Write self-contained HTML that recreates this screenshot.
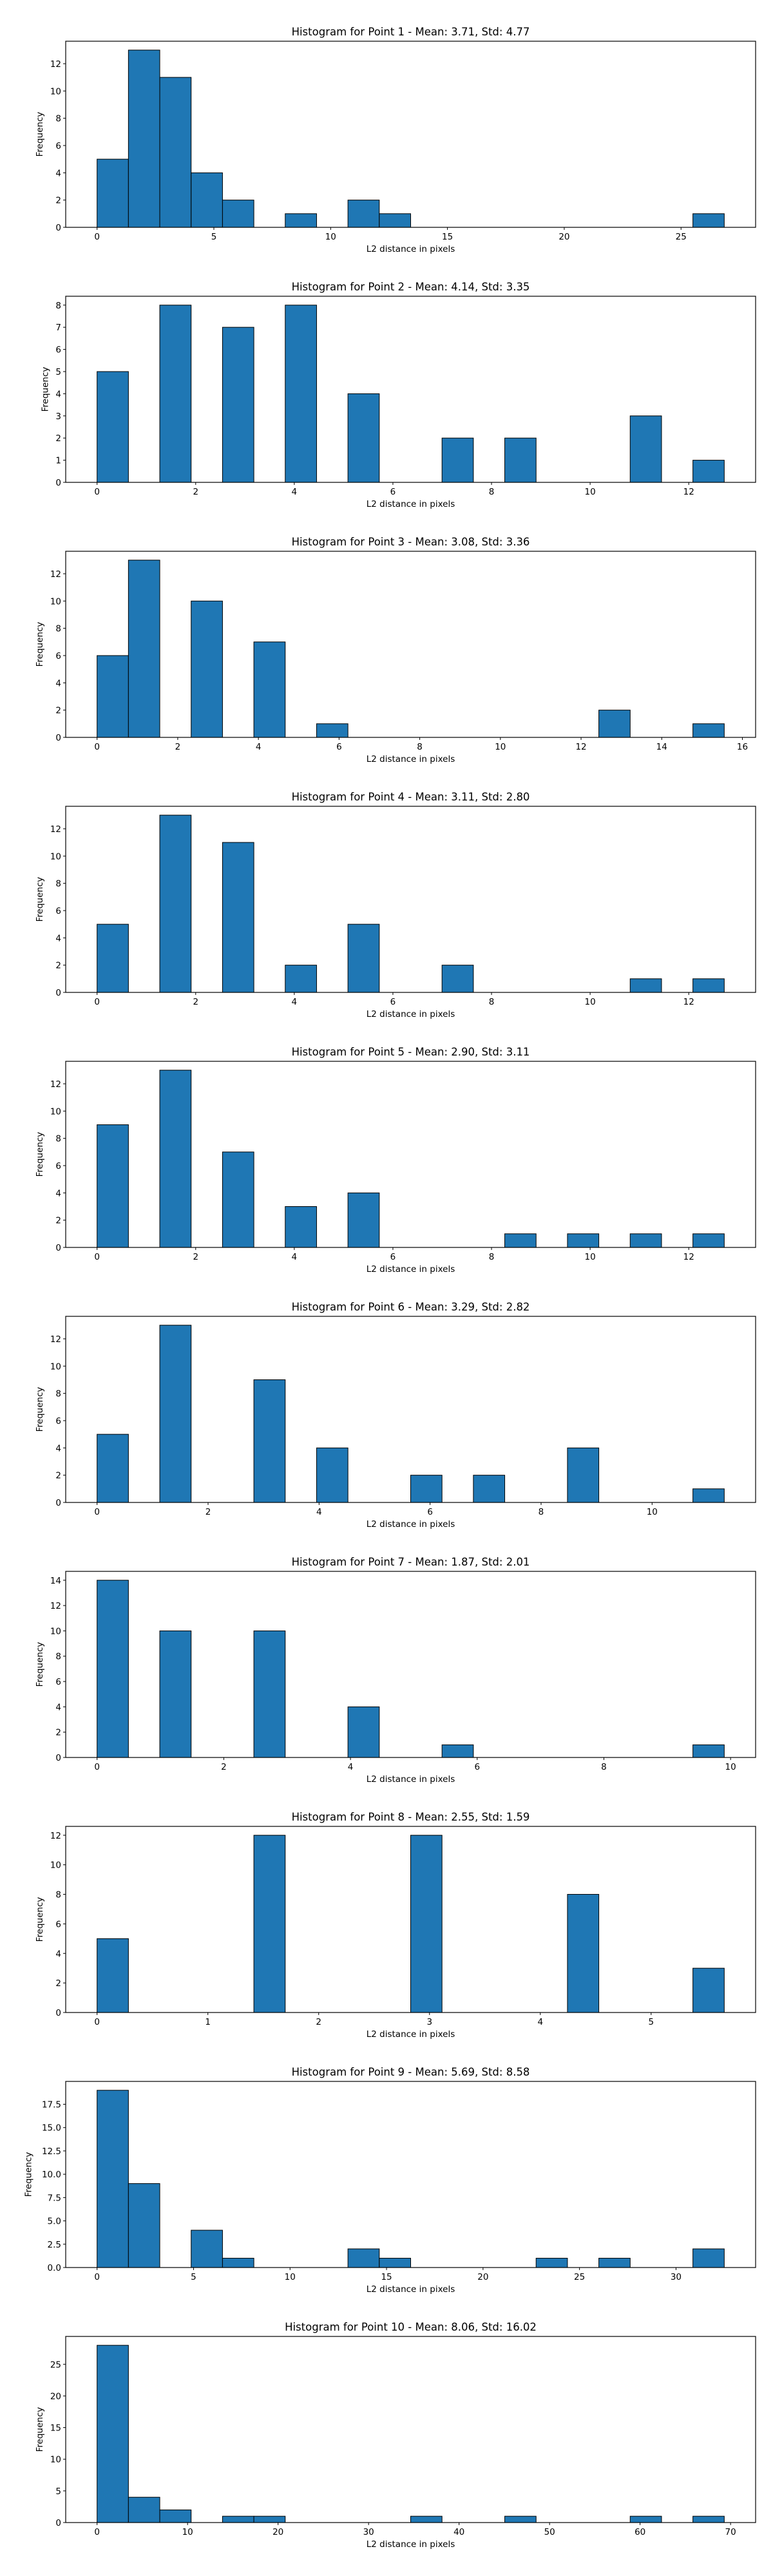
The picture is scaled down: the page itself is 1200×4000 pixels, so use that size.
<!DOCTYPE html>
<html><head><meta charset="utf-8">
<style>
html,body{margin:0;padding:0;background:#fff;}
svg{display:block;font-family:"DejaVu Sans","Liberation Sans",sans-serif;}
</style></head>
<body>
<svg id="fig" width="1200" height="4000" viewBox="0 0 1200 4000" xmlns="http://www.w3.org/2000/svg"></svg>
<script>
const pointLabels = ["1","2","3","4","5","6","7","8","9","10"];
const means = ["3.71","4.14","3.08","3.11","2.90","3.29","1.87","2.55","5.69","8.06"];
const stds = ["4.77","3.35","3.36","2.80","3.11","2.82","2.01","1.59","8.58","16.02"];
const xMaxes = [26.85,12.72,15.55,12.72,12.72,11.3,9.9,5.66,32.5,69.3];
const counts1 = [5,13,11,4,2,0,1,0,2,1,0,0,0,0,0,0,0,0,0,1];
const counts2 = [5,0,8,0,7,0,8,0,4,0,0,2,0,2,0,0,0,3,0,1];
const counts3 = [6,13,0,10,0,7,0,1,0,0,0,0,0,0,0,0,2,0,0,1];
const counts4 = [5,0,13,0,11,0,2,0,5,0,0,2,0,0,0,0,0,1,0,1];
const counts5 = [9,0,13,0,7,0,3,0,4,0,0,0,0,1,0,1,0,1,0,1];
const counts6 = [5,0,13,0,0,9,0,4,0,0,2,0,2,0,0,4,0,0,0,1];
const counts7 = [14,0,10,0,0,10,0,0,4,0,0,1,0,0,0,0,0,0,0,1];
const counts8 = [5,0,0,0,0,12,0,0,0,0,12,0,0,0,0,8,0,0,0,3];
const counts9 = [19,9,0,4,1,0,0,0,2,1,0,0,0,0,1,0,1,0,0,2];
const counts10 = [28,4,2,0,1,1,0,0,0,0,1,0,0,1,0,0,0,1,0,1];
const allCounts = [counts1,counts2,counts3,counts4,counts5,counts6,counts7,counts8,counts9,counts10];
const xTicks = [[0,5,10,15,20,25],[0,2,4,6,8,10,12],[0,2,4,6,8,10,12,14,16],[0,2,4,6,8,10,12],[0,2,4,6,8,10,12],[0,2,4,6,8,10],[0,2,4,6,8,10],[0,1,2,3,4,5],[0,5,10,15,20,25,30],[0,10,20,30,40,50,60,70]];
const yTicks = [[0,2,4,6,8,10,12],[0,1,2,3,4,5,6,7,8],[0,2,4,6,8,10,12],[0,2,4,6,8,10,12],[0,2,4,6,8,10,12],[0,2,4,6,8,10,12],[0,2,4,6,8,10,12,14],[0,2,4,6,8,10,12],[0,2.5,5,7.5,10,12.5,15,17.5],[0,5,10,15,20,25]];
const yTickDecimals = [0,0,0,0,0,0,0,0,1,0];

const NS = "http://www.w3.org/2000/svg";
const svg = document.getElementById('fig');
function mk(tag, attrs, parent){
  const e = document.createElementNS(NS, tag);
  for (const k in attrs) e.setAttribute(k, attrs[k]);
  parent.appendChild(e);
  return e;
}
const L = 102, R = 1173, H = 289, STEP = 396, TOP0 = 64;

allCounts.forEach((counts, ci) => {
  const top = TOP0 + STEP * ci, bot = top + H;
  const xMax = xMaxes[ci];
  const xMin = -0.05 * xMax, xHi = xMax * 1.05;
  const xs = v => L + (v - xMin) / (xHi - xMin) * (R - L);
  const cMax = Math.max(...counts);
  const yHi = cMax * 1.05;
  const ys = v => bot - v / yHi * H;
  const g = mk('g', {}, svg);
  
  

  const title = mk('text', {x: (L+R)/2, y: top - 9, 'text-anchor':'middle', 'font-size':'16.5', fill:'#000'}, g);
  title.textContent = 'Histogram for Point ' + pointLabels[ci] + ' - Mean: ' + means[ci] + ', Std: ' + stds[ci];
  
  

  const bw = xMax / counts.length;
  counts.forEach((c, i) => {
    const x0 = xs(i * bw), x1 = xs((i + 1) * bw);
    const r = mk('rect', {x: x0, y: ys(c), width: x1 - x0, height: bot - ys(c), fill:'#1f77b4', stroke:'#000', 'stroke-width':'1'}, g);
    
    
  });

  const frame = mk('rect', {x: L, y: top, width: R - L, height: H, fill:'none', stroke:'#000', 'stroke-width':'1.2'}, g);
  
  

  xTicks[ci].forEach(t => {
    const x = xs(t);
    mk('line', {x1:x, x2:x, y1:bot, y2:bot+4, stroke:'#000', 'stroke-width':'1'}, g);
    const tl = mk('text', {x:x, y:bot+19, 'text-anchor':'middle', 'font-size':'13.5', fill:'#000'}, g);
    tl.textContent = t;
    
    
  });
  let maxChars = 1;
  yTicks[ci].forEach(t => {
    const y = ys(t);
    mk('line', {x1:L-4, x2:L, y1:y, y2:y, stroke:'#000', 'stroke-width':'1'}, g);
    const s = t.toFixed(yTickDecimals[ci]);
    maxChars = Math.max(maxChars, s.length);
    const tl = mk('text', {x:L-7, y:y+5, 'text-anchor':'end', 'font-size':'13.5', fill:'#000'}, g);
    tl.textContent = s;
    
    
  });
  const xl = mk('text', {x:(L+R)/2, y:bot+38, 'text-anchor':'middle', 'font-size':'13.5', fill:'#000'}, g);
  xl.textContent = 'L2 distance in pixels';
  
  
  const yx = L - 7 - maxChars * 8.6 - 12;
  const yc = (top + bot) / 2;
  const yl = mk('text', {x:yx, y:yc, 'text-anchor':'middle', 'font-size':'13.5', fill:'#000', transform:'rotate(-90 ' + yx + ' ' + yc + ')'}, g);
  yl.textContent = 'Frequency';
  
  
});
</script>
</body></html>
